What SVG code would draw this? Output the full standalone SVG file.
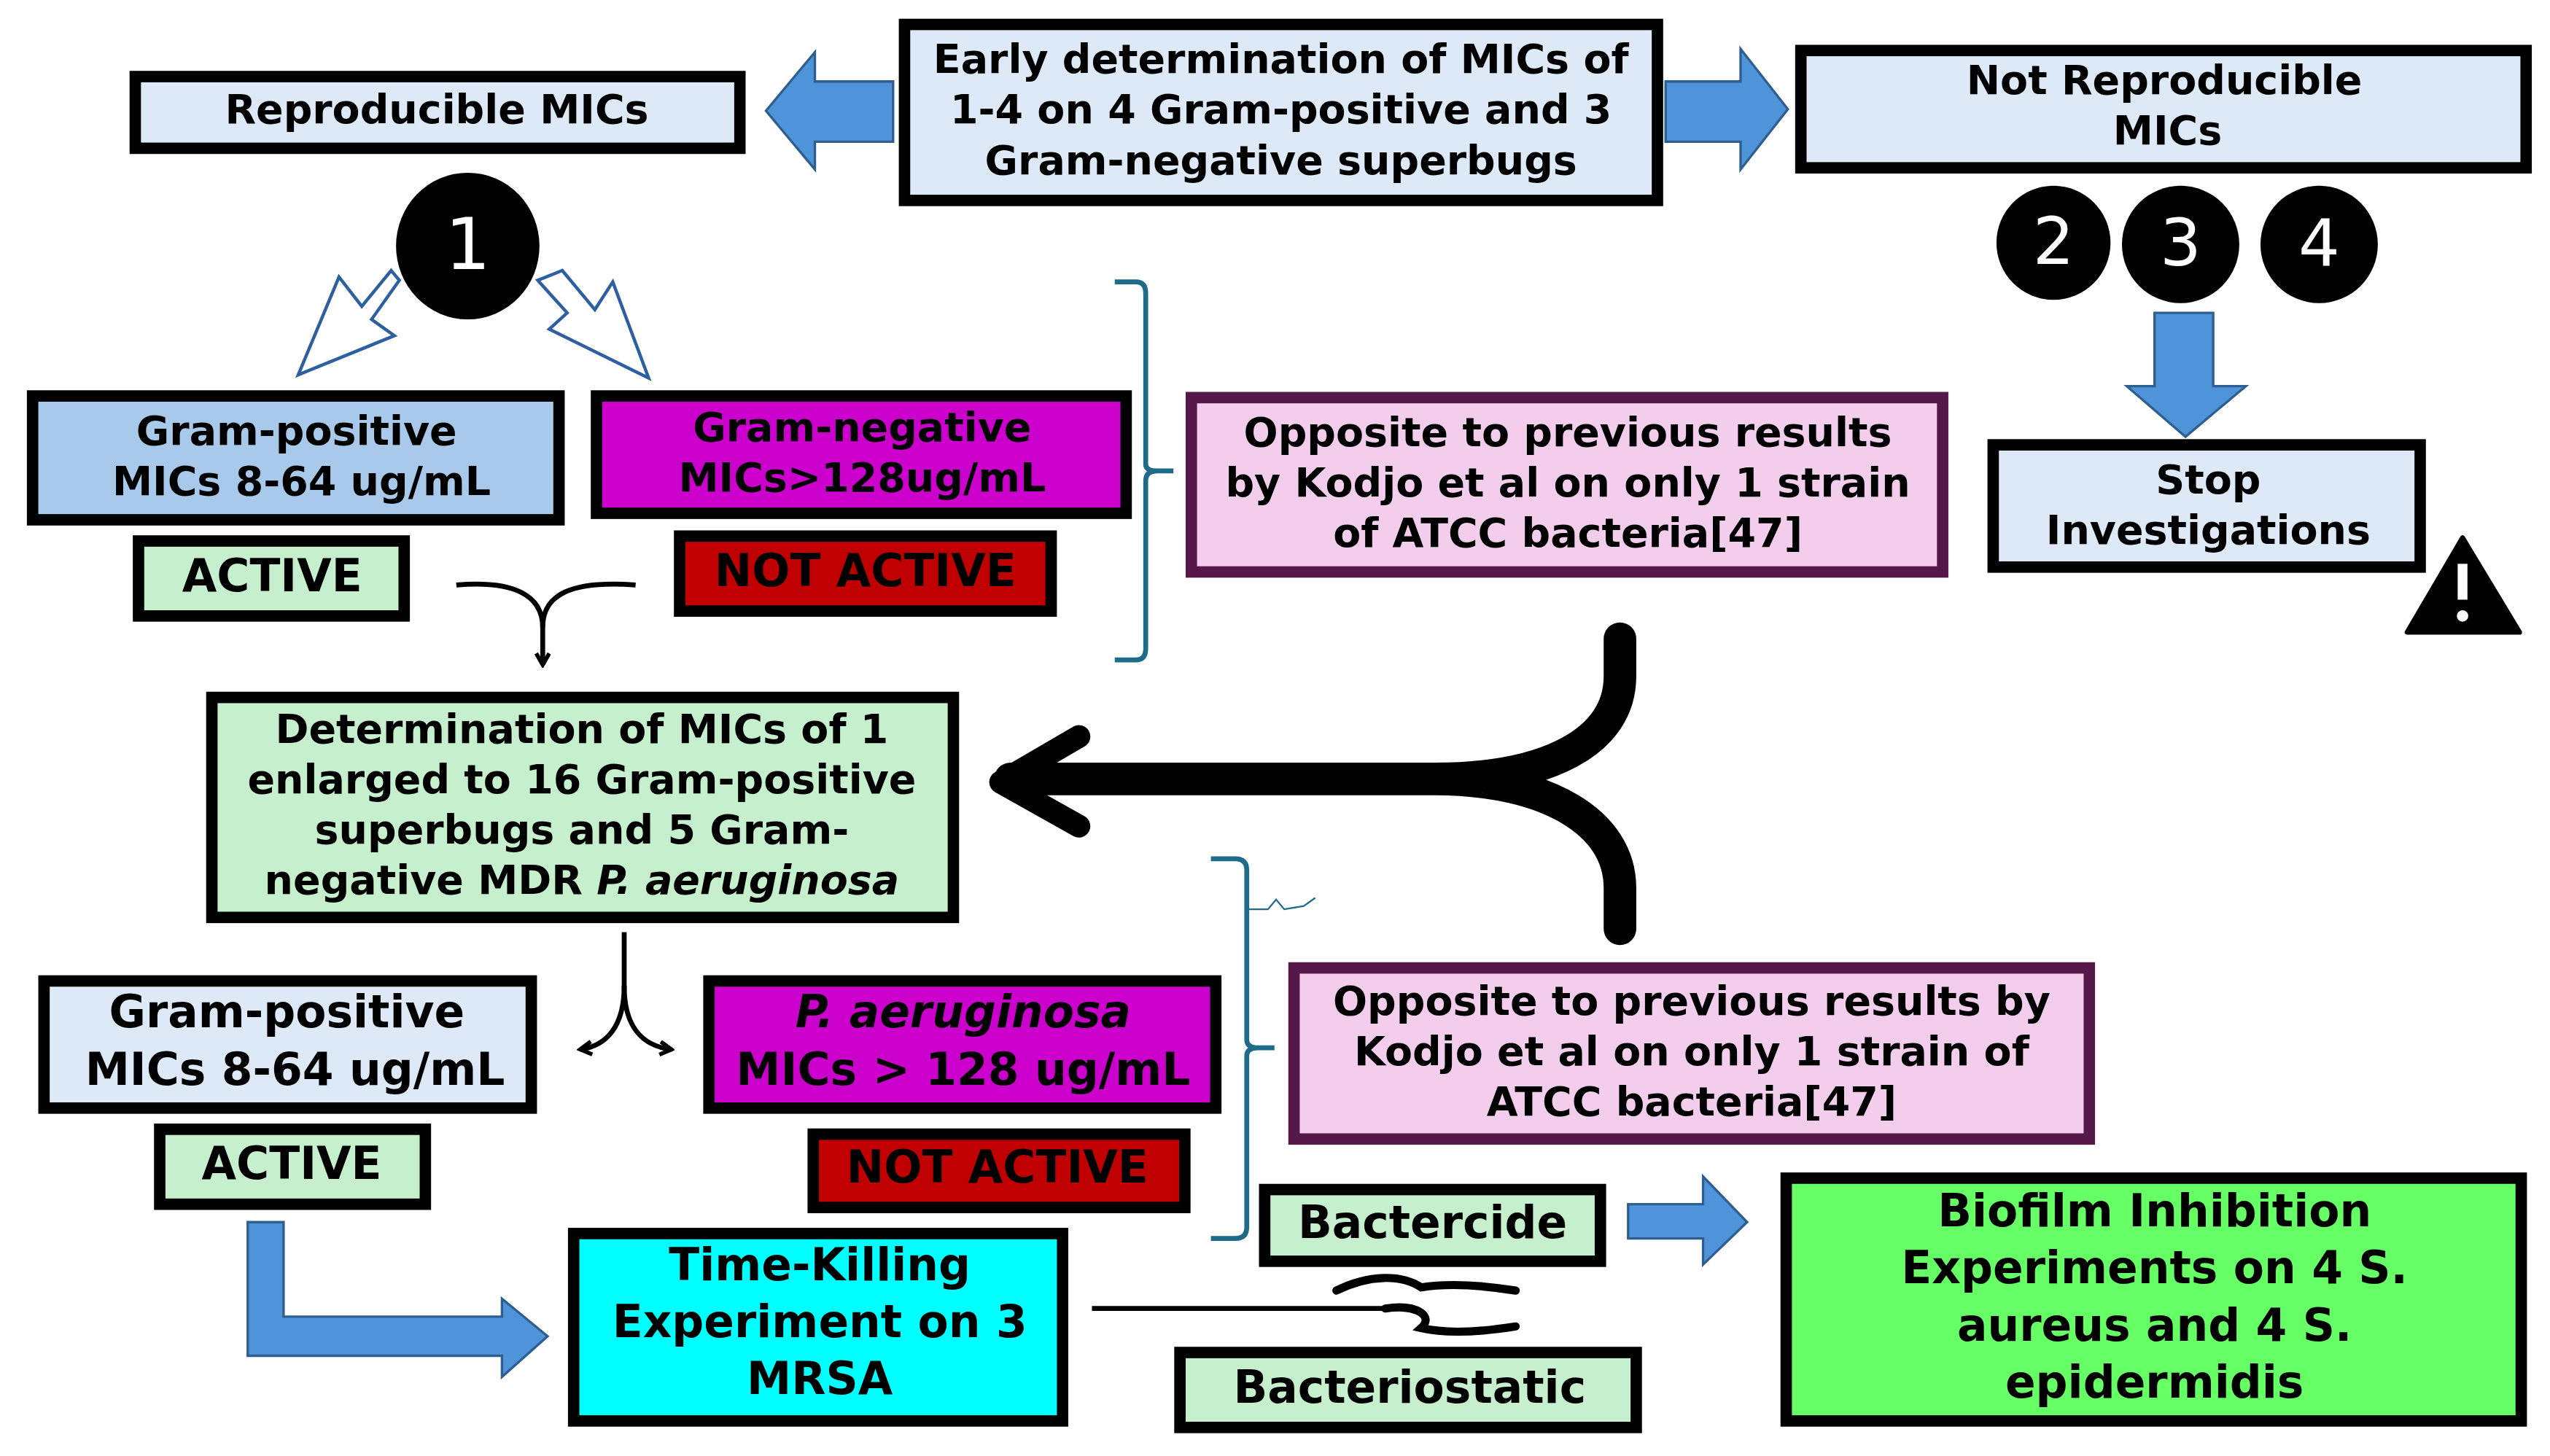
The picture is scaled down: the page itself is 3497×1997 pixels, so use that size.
<svg xmlns="http://www.w3.org/2000/svg" width="3497" height="1997" viewBox="0 0 3497 1997">
<style>
.t{font-family:"DejaVu Sans","Verdana",sans-serif;font-weight:bold;fill:#000;text-anchor:middle;dominant-baseline:middle}
.s{font-size:24.8px}.m{font-size:27.5px}
.b{stroke:#000;stroke-width:7}
.p{stroke:#561848;stroke-width:7}
.ba{fill:#4f94d8;stroke:#2e5f90;stroke-width:1.5}
.br{fill:none;stroke:#1f6b8a;stroke-width:3}
.ln{fill:none;stroke:#000;stroke-width:3}
</style>
<defs>
<marker id="ah" markerWidth="10" markerHeight="10" refX="8" refY="5" orient="auto" markerUnits="userSpaceOnUse"><path d="M1 1 L8 5 L1 9" fill="none" stroke="#000" stroke-width="2.5"/></marker>
</defs>
<rect width="3497" height="1997" fill="#fff"/>
<g transform="scale(2.235)">
<g id="connectors">
<polygon class="ba" points="548,50 500,50 500,32 470,68 500,104 500,87 548,87"/>
<polygon class="ba" points="1022,50 1068,50 1068,30 1097,67 1068,104 1068,87 1022,87"/>
<polygon class="ba" points="1322,192 1358,192 1358,237 1378,237 1341,268 1305,237 1322,237"/>
<polygon class="ba" points="999,739 1045,739 1045,722 1072,750 1045,776 1045,760 999,760"/>
<polygon class="ba" points="152,750 174,750 174,808 308,808 308,797 336,820 308,845 308,832 152,832"/>
<polygon points="245,172 228,196 242,206 183,230 208,170 222,188 240,166" fill="#fff" stroke="#2e5fa0" stroke-width="2"/>
<polygon points="330,172 348,192 337,202 398,232 376,173 365,190 345,166" fill="#fff" stroke="#2e5fa0" stroke-width="2"/>
<path class="br" d="M684 173 H697 Q703 173 703 180 V285 Q703 289 710 289 H720 M710 289 Q703 289 703 295 V398 Q703 405 697 405 H684"/>
<path class="br" d="M743 527 H758 Q765 527 765 534 V638 Q765 643 772 643 H782 M772 643 Q765 643 765 648 V753 Q765 760 758 760 H743"/>
<path d="M766 558 H778 L783 552 L788 558 L800 556 L807 551" fill="none" stroke="#1f6b8a" stroke-width="1"/>
<path class="ln" d="M280 359 C315 356 333 365 333 385 M390 359 C350 356 333 365 333 385"/>
<path d="M333 383 V408" class="ln" marker-end="url(#ah)"/>
<path d="M994 392 V415 C994 455 950 478 880 478 H620 M994 570 V545 C994 505 950 478 880 478" fill="none" stroke="#000" stroke-width="20" stroke-linecap="round"/>
<path d="M662 452 L614 480 L662 507" fill="none" stroke="#000" stroke-width="14" stroke-linecap="round" stroke-linejoin="round"/>
<path class="ln" d="M383 572 V605 C383 630 372 642 356 644" marker-end="url(#ah)"/>
<path class="ln" d="M383 605 C383 630 394 642 412 644" marker-end="url(#ah)"/>
<path d="M670 803 H850" fill="none" stroke="#000" stroke-width="3"/>
<path d="M820 792 C840 782 860 782 872 790 C885 788 905 788 930 792 M850 803 C870 800 880 808 872 815 C885 818 905 818 930 814" fill="none" stroke="#000" stroke-width="5" stroke-linecap="round"/>
</g>
<g id="n_top"><rect class="b" x="555" y="15" width="462" height="108" fill="#dde9f7"/>
<text class="t s" x="786" y="38">Early determination of MICs of</text>
<text class="t s" x="786" y="69">1-4  on 4 Gram-positive and 3</text>
<text class="t s" x="786" y="100">Gram-negative superbugs</text></g>
<g id="n_repro"><rect class="b" x="83" y="47" width="371" height="44" fill="#dde9f7"/><text class="t s" x="268" y="69">Reproducible MICs</text></g>
<g id="n_notrepro"><rect class="b" x="1105" y="31" width="445" height="72" fill="#dde9f7"/>
<text class="t s" x="1328" y="51">Not Reproducible</text><text class="t s" x="1330" y="82">MICs</text></g>
<g id="c1"><ellipse cx="287" cy="151" rx="44" ry="45"/><text class="t" x="287" y="153" font-size="44" style="fill:#fff;font-weight:normal">1</text></g>
<g id="c2"><circle cx="1260" cy="149" r="35"/><text class="t" x="1260" y="151" font-size="40" style="fill:#fff;font-weight:normal">2</text></g>
<g id="c3"><circle cx="1338" cy="150" r="36"/><text class="t" x="1338" y="152" font-size="40" style="fill:#fff;font-weight:normal">3</text></g>
<g id="c4"><circle cx="1423" cy="150" r="36"/><text class="t" x="1423" y="152" font-size="40" style="fill:#fff;font-weight:normal">4</text></g>
<g id="n_gp1"><rect class="b" x="20" y="243" width="323" height="76" fill="#a9c9ea"/>
<text class="t s" x="182" y="266">Gram-positive</text><text class="t s" x="185" y="297">MICs 8-64 ug/mL</text></g>
<g id="n_gn1"><rect class="b" x="366" y="243" width="325" height="72" fill="#cc00cc"/>
<text class="t s" x="529" y="264">Gram-negative</text><text class="t s" x="529" y="295">MICs&gt;128ug/mL</text></g>
<g id="n_act1"><rect class="b" x="85" y="332" width="163" height="46" fill="#c6efce"/><text class="t m" x="167" y="355">ACTIVE</text></g>
<g id="n_nact1"><rect class="b" x="417" y="329" width="228" height="46" fill="#c00000"/><text class="t m" x="531" y="352">NOT ACTIVE</text></g>
<g id="n_opp1"><rect class="p" x="731" y="244" width="461" height="107" fill="#f2cdec"/>
<text class="t s" x="962" y="267">Opposite to previous results</text>
<text class="t s" x="962" y="298">by Kodjo et al on only 1 strain</text>
<text class="t s" x="962" y="329">of ATCC bacteria[47]</text></g>
<g id="n_stop"><rect class="b" x="1223" y="273" width="262" height="75" fill="#dde9f7"/>
<text class="t s" x="1355" y="296">Stop</text><text class="t s" x="1355" y="327">Investigations</text></g>
<g id="warn"><polygon points="1511,330 1477,388 1546,388" fill="#000" stroke="#000" stroke-width="3" stroke-linejoin="round"/><rect x="1508" y="346" width="6" height="22" fill="#fff"/><circle cx="1511" cy="378" r="3.5" fill="#fff"/></g>
<g id="n_det"><rect class="b" x="130" y="428" width="455" height="135" fill="#c6efce"/>
<text class="t s" x="357" y="449">Determination of MICs of 1</text>
<text class="t s" x="357" y="480">enlarged to 16 Gram-positive</text>
<text class="t s" x="357" y="511">superbugs and 5 Gram-</text>
<text class="t s" x="357" y="542">negative MDR <tspan font-style="italic">P. aeruginosa</tspan></text></g>
<g id="n_gp2"><rect class="b" x="27" y="602" width="299" height="78" fill="#dde9f7"/>
<text class="t m" x="176" y="623">Gram-positive</text><text class="t m" x="181" y="658">MICs 8-64 ug/mL</text></g>
<g id="n_pa"><rect class="b" x="435" y="602" width="311" height="78" fill="#cc00cc"/>
<text class="t m" x="591" y="623" font-style="italic">P. aeruginosa</text><text class="t m" x="591" y="658">MICs &gt; 128 ug/mL</text></g>
<g id="n_act2"><rect class="b" x="98" y="693" width="163" height="46" fill="#c6efce"/><text class="t m" x="179" y="716">ACTIVE</text></g>
<g id="n_nact2"><rect class="b" x="499" y="696" width="228" height="45" fill="#c00000"/><text class="t m" x="612" y="718">NOT ACTIVE</text></g>
<g id="n_opp2"><rect class="p" x="794" y="594" width="488" height="105" fill="#f2cdec"/>
<text class="t s" x="1038" y="616">Opposite to previous results by</text>
<text class="t s" x="1038" y="647">Kodjo et al on only 1 strain of</text>
<text class="t s" x="1038" y="678">ATCC bacteria[47]</text></g>
<g id="n_bcide"><rect class="b" x="776" y="730" width="206" height="44" fill="#c6efce"/><text class="t m" x="879" y="752">Bactercide</text></g>
<g id="n_bio"><rect class="b" x="1096" y="723" width="451" height="149" fill="#66ff66"/>
<text class="t m" x="1322" y="745">Biofilm Inhibition</text>
<text class="t m" x="1322" y="780">Experiments on 4 S.</text>
<text class="t m" x="1322" y="815">aureus and 4 S.</text>
<text class="t m" x="1322" y="850">epidermidis</text></g>
<g id="n_tk"><rect class="b" x="352" y="757" width="300" height="115" fill="#00ffff"/>
<text class="t m" x="503" y="778">Time-Killing</text>
<text class="t m" x="503" y="813">Experiment on 3</text>
<text class="t m" x="503" y="848">MRSA</text></g>
<g id="n_bstat"><rect class="b" x="724" y="830" width="280" height="46" fill="#c6efce"/><text class="t m" x="865" y="853">Bacteriostatic</text></g>
</g>
</svg>
